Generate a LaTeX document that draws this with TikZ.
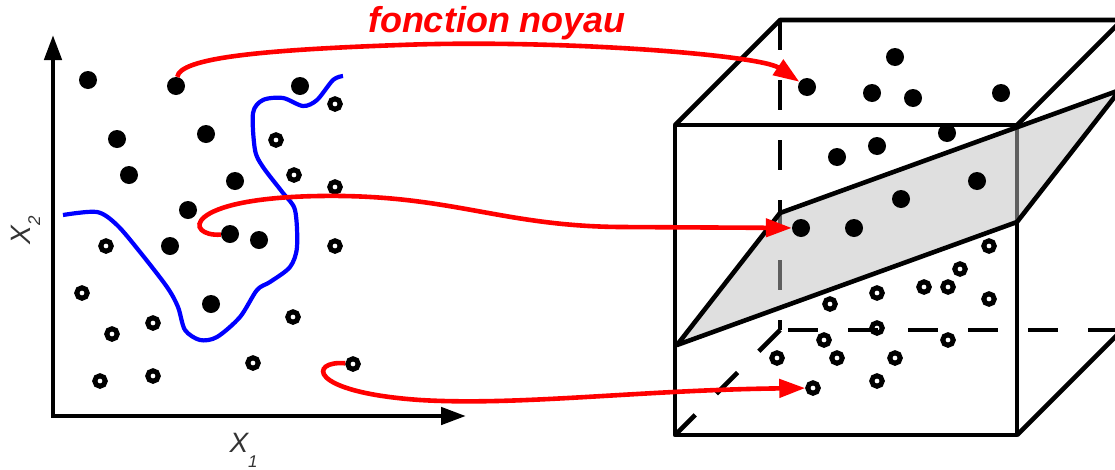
\documentclass[tikz,border=0pt]{standalone}
\usepackage{fontspec}
\setmainfont{Liberation Sans}
\usetikzlibrary{arrows.meta}

\begin{document}
\begin{tikzpicture}[x=1pt,y=-1pt,>={Triangle[length=26pt,width=18pt]},
  fulldot/.style={circle,fill,inner sep=0pt,minimum size=18pt},
  emptydot/.style={circle,draw,line width=5pt,inner sep=0pt,minimum size=10.5pt},
  cubeline/.style={line width=4.6pt,line join=round},
  backline/.style={line width=4.6pt,dash pattern=on 30pt off 30pt},
  kmap/.style={->,red,line width=4.6pt},
  axlab/.style={black!80,font=\fontsize{28}{28}\selectfont\itshape}]
\useasboundingbox (0,0) rectangle (1115,469);

% input space
\coordinate (O) at (53,416);
\coordinate (Ytip) at (53,35);
\coordinate (Xtip) at (466,416);
\draw[line width=4.6pt,line join=miter,<->,>={Triangle[length=25pt,width=17pt]}] (Ytip) -- (O) -- (Xtip);
\node[axlab,anchor=base west] (x1) at (226,452) {X\raisebox{-15pt}{\fontsize{17}{17}\selectfont 1}};
\node[axlab,rotate=90,anchor=base west] (x2) at (30,248) {X\raisebox{-10pt}{\fontsize{17}{17}\selectfont 2}};

\foreach \x/\y [count=\i] in {88/80,176/86,300/86,117/139,206/134,129/175,235/181,188/210,170/246,230/234,259/240,211/304}
  \node[fulldot] (lp\i) at (\x,\y) {};
\foreach \x/\y [count=\i] in {335/104,276/140,294/175,335/187,106/246,335/246,82/293,153/323,112/334,293/317,253/363,153/376,100/381,353/364}
  \node[emptydot] (ln\i) at (\x,\y) {};

\draw[blue,line width=4.2pt] plot[smooth] coordinates {(63,215) (97,212) (117,225) (140,252) (167,287) (178,307) (185,330) (200,340) (217,337) (240,317) (257,290) (270,282) (290,267) (297,247) (295,210) (283,193) (263,167) (255,150) (253,113) (263,100) (283,98) (303,106) (317,100) (333,80) (343,76)};

% feature space
\coordinate (A) at (675,435);
\coordinate (B) at (1017,435);
\coordinate (C) at (1017,125);
\coordinate (D) at (675,125);
\coordinate (E) at (780,330);
\coordinate (F) at (1122,330);
\coordinate (G) at (1122,20);
\coordinate (H) at (780,20);
\draw[cubeline] (A) -- (B) -- (C) -- (D) -- cycle;
\draw[cubeline] (D) -- (H) -- (G) -- (C);
\draw[cubeline] (B) -- (F);
\draw[backline] (H) -- (E);
\draw[backline,dash phase=52pt] (E) -- (F);
\draw[backline] (E) -- (A);

\coordinate (P1) at (677,345);
\coordinate (P2) at (1017,222);
\coordinate (P3) at (1120,90);
\coordinate (P4) at (780,213);
\filldraw[cubeline,fill=black!25,fill opacity=0.5] (P1) -- (P2) -- (P3) -- (P4) -- cycle;

\foreach \x/\y [count=\i] in {807/87,895/57,872/93,913/98,1001/93,947/133,877/146,837/157,977/181,901/199,801/228,854/228}
  \node[fulldot] (rp\i) at (\x,\y) {};
\foreach \x/\y [count=\i] in {989/246,960/269,924/287,948/287,877/293,989/299,830/304,877/328,824/340,948/340,777/358,837/358,895/358,877/381,813/388}
  \node[emptydot] (rn\i) at (\x,\y) {};

% kernel map
\node[red,font=\fontsize{36}{36}\selectfont\bfseries\itshape,anchor=base] (title) at (497,32) {fonction noyau};
\draw[kmap] (lp2) .. controls (180,58) and (260,50) .. (400,45) .. controls (560,39) and (760,55) .. (rp1);
\draw[kmap] (lp10) .. controls (185,237) and (180,198) .. (320,196) .. controls (450,194) and (500,226) .. (620,227) -- (rp11);
\draw[kmap] (ln14) .. controls (310,360) and (305,392) .. (420,400) .. controls (520,406) and (640,390) .. (rn15);
\end{tikzpicture}
\end{document}
